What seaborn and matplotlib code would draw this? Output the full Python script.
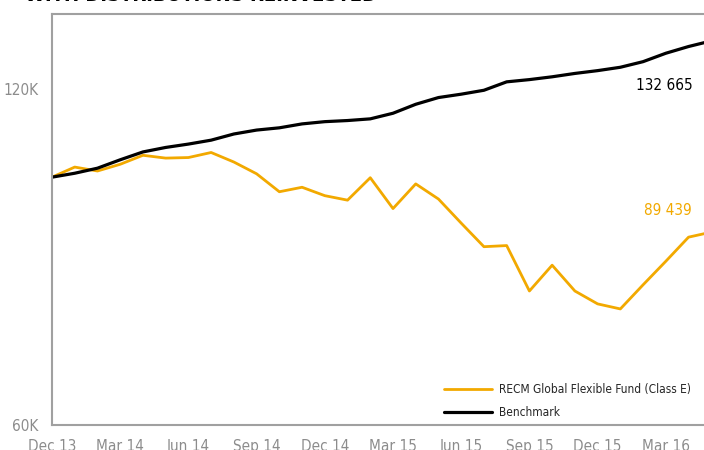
import pandas as pd
import matplotlib.pyplot as plt
import seaborn as sns
from matplotlib import font_manager as fm

# Monthly values (in thousands), Dec 13 .. May 16
fund = [104.2, 106.0, 105.3, 106.5, 108.1, 107.6, 107.7, 108.6, 106.9, 104.8,
        101.6, 102.4, 100.9, 100.1, 104.1, 98.6, 103.0, 100.3, 96.0, 91.8,
        92.0, 83.9, 88.5, 83.9, 81.6, 80.7, 85.0, 89.2, 93.5, 94.4]
benchmark = [104.2, 104.9, 105.8, 107.3, 108.7, 109.5, 110.1, 110.8, 111.9, 112.6,
             113.0, 113.7, 114.1, 114.3, 114.6, 115.6, 117.2, 118.4, 119.0, 119.7,
             121.2, 121.6, 122.1, 122.7, 123.2, 123.8, 124.8, 126.3, 127.5, 128.5]
tick_labels = ["Dec 13", "Mar 14", "Jun 14", "Sep 14", "Dec 14",
               "Mar 15", "Jun 15", "Sep 15", "Dec 15", "Mar 16"]
series_names = ["RECM Global Flexible Fund (Class E)", "Benchmark"]
end_labels = ["89 439", "132 665"]

orange = "#F2A900"
grey = "#8c8c8c"

df = pd.DataFrame({
    "month": list(range(len(fund))) * 2,
    "value": fund + benchmark,
    "series": [series_names[0]] * len(fund) + [series_names[1]] * len(benchmark),
})

sns.set_style("white")

# the original uses a condensed face; use one if the machine has it
narrow = [f for f in fm.fontManager.ttflist
          if ("Narrow" in f.name or "Condensed" in f.name
              or f.stretch in ("condensed", "semi-condensed"))
          and f.weight in (400, "normal", "regular")]
if narrow:
    plt.rcParams["font.family"] = [narrow[0].name, "DejaVu Sans"]
    plt.rcParams["font.stretch"] = narrow[0].stretch
    fs = 10.5
    legend_fs = 8.6
else:
    plt.rcParams["font.family"] = ["Roboto", "DejaVu Sans"]
    fs = 8.6
    legend_fs = 7.5

fig = plt.figure(figsize=(7.04, 4.5), dpi=100)
ax = fig.add_axes([52 / 704, 25 / 450, 1 - 52 / 704, 411 / 450])

sns.lineplot(data=df, x="month", y="value", hue="series",
             palette=[orange, "black"], ax=ax, legend=False)
ax.lines[0].set_linewidth(2.0)
ax.lines[1].set_linewidth(2.3)

ax.set_xlim(0, 28.68)
ax.set_ylim(60, 133.3)
ax.set_xticks(range(0, 30, 3))
ax.set_xticklabels(tick_labels)
ax.set_yticks([60, 120])
ax.set_yticklabels(["60K", "120K"])
ax.tick_params(length=0, labelsize=fs + 0.5, colors=grey, pad=10)
ax.tick_params(axis="y", pad=10)
ax.set_xlabel("")
ax.set_ylabel("")

for side in ["left", "top", "bottom"]:
    ax.spines[side].set_color("#a0a0a0")
    ax.spines[side].set_linewidth(1.5)
ax.spines["right"].set_visible(False)

# End value labels
ax.text(28.2, 120.6, end_labels[1], color="black", fontsize=fs + 0.5,
        va="center", ha="right")
ax.text(28.15, 98.2, end_labels[0], color=orange, fontsize=fs + 0.5,
        va="center", ha="right")

# Legend
handles = [plt.Line2D([], [], color=orange, lw=2.0),
           plt.Line2D([], [], color="black", lw=2.3)]
fig.legend(handles, series_names, loc="lower left",
           bbox_to_anchor=(444 / 704, 1 - 419 / 450), frameon=False,
           fontsize=legend_fs, handlelength=48 / (legend_fs * 100 / 72),
           handletextpad=0.6, labelspacing=0.8, borderpad=0, borderaxespad=0)

# Title (cropped at top in the original)
fig.text(25 / 704, 1 - 1 / 450, "WITH DISTRIBUTIONS REINVESTED",
         fontsize=fs + 4, fontweight="bold", color="black", va="baseline")

fig.savefig("out.png", dpi=100)
